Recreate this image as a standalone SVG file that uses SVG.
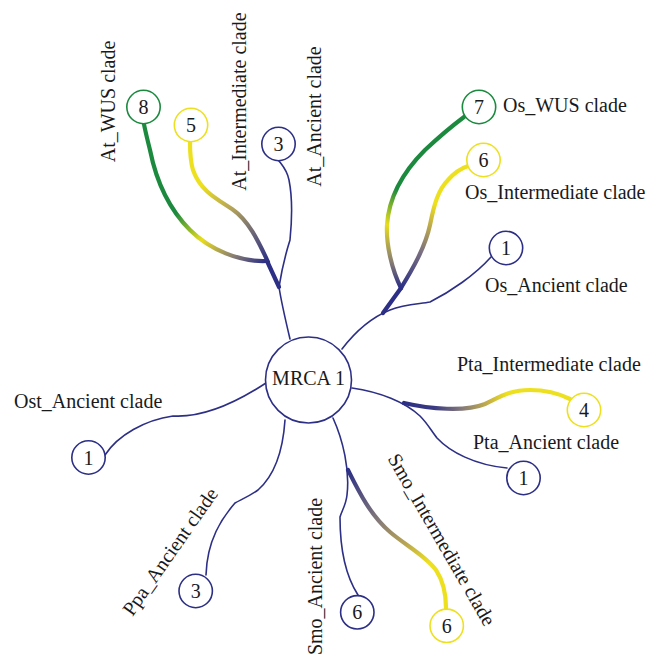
<svg xmlns="http://www.w3.org/2000/svg" width="653" height="660" viewBox="0 0 653 660" font-family="'Liberation Serif', 'DejaVu Serif', serif">
<style>
text{font-family:"Liberation Serif","DejaVu Serif",serif;font-size:20px;fill:#1a1a1a}
.num{text-anchor:middle}
.mid{text-anchor:middle}
.thin{fill:none;stroke:#2c2f85;stroke-width:1.6;stroke-linecap:round}
.thick{fill:none;stroke-width:4.2;stroke-linecap:round}
.cn{fill:#fff;stroke:#2c2f85;stroke-width:1.6}
.cy{fill:#fff;stroke:#ede01e;stroke-width:1.6}
.cg{fill:#fff;stroke:#1c8a3e;stroke-width:1.6}
</style>
<defs>
<linearGradient id="gAtWUS" gradientUnits="userSpaceOnUse" x1="266" y1="261" x2="144" y2="124">
<stop offset="0" stop-color="#2c2f85"/><stop offset="0.14" stop-color="#8a7f72"/><stop offset="0.32" stop-color="#e9dd1c"/><stop offset="0.52" stop-color="#1c8a3e"/><stop offset="1" stop-color="#1c8a3e"/>
</linearGradient>
<linearGradient id="gAtInt" gradientUnits="userSpaceOnUse" x1="268" y1="262" x2="190" y2="142">
<stop offset="0" stop-color="#2c2f85"/><stop offset="0.22" stop-color="#6a6478"/><stop offset="0.45" stop-color="#b3a35a"/><stop offset="0.7" stop-color="#ede01e"/><stop offset="1" stop-color="#ede01e"/>
</linearGradient>
<linearGradient id="gOsWUS" gradientUnits="userSpaceOnUse" x1="401" y1="288" x2="464" y2="117">
<stop offset="0" stop-color="#2c2f85"/><stop offset="0.12" stop-color="#8a7f72"/><stop offset="0.3" stop-color="#e9dd1c"/><stop offset="0.5" stop-color="#1c8a3e"/><stop offset="1" stop-color="#1c8a3e"/>
</linearGradient>
<linearGradient id="gOsInt" gradientUnits="userSpaceOnUse" x1="401" y1="288" x2="468" y2="167">
<stop offset="0" stop-color="#2c2f85"/><stop offset="0.3" stop-color="#7a7080"/><stop offset="0.5" stop-color="#c0ab4a"/><stop offset="0.65" stop-color="#ede01e"/><stop offset="1" stop-color="#ede01e"/>
</linearGradient>
<linearGradient id="gPta" gradientUnits="userSpaceOnUse" x1="404" y1="403" x2="570" y2="399">
<stop offset="0" stop-color="#2c2f85"/><stop offset="0.18" stop-color="#3a3a82"/><stop offset="0.35" stop-color="#857a78"/><stop offset="0.5" stop-color="#c2ad4a"/><stop offset="0.62" stop-color="#ede01e"/><stop offset="1" stop-color="#ede01e"/>
</linearGradient>
<linearGradient id="gSmo" gradientUnits="userSpaceOnUse" x1="348" y1="470" x2="446" y2="608">
<stop offset="0" stop-color="#2c2f85"/><stop offset="0.35" stop-color="#857a78"/><stop offset="0.55" stop-color="#b8a552"/><stop offset="0.72" stop-color="#ede01e"/><stop offset="1" stop-color="#ede01e"/>
</linearGradient>
</defs>

<g id="connectors">
<path class="thin" d="M290,339 C285,318 281,300 279,287"/>
<path class="thin" d="M279,287 Q283,262 290,240 C292,220 292,195 289,180 C287,170 282,165 279,161"/>
<path class="thick" stroke="#2c2f85" d="M279,287 L267,261"/>
<path class="thick" stroke="url(#gAtWUS)" d="M266,261 C240,262 210,250 190,230 C165,205 155,175 150,150 C147,138 145,130 144,124"/>
<path class="thick" stroke="url(#gAtInt)" d="M268,262 C258,240 248,220 232,209 C215,198 200,190 193,170 C190,160 190,150 190,142"/>
<path class="thin" d="M342,349 C355,332 370,318 390,310 C405,304 420,304 430,302 C450,292 475,275 491,257"/>
<path class="thick" stroke="#2c2f85" d="M383,313 L401,288"/>
<path class="thick" stroke="url(#gOsWUS)" d="M401,288 C392,270 386,245 387,225 C389,195 405,170 425,150 C440,136 452,126 464,117"/>
<path class="thick" stroke="url(#gOsInt)" d="M401,288 C412,270 425,248 430,225 C434,205 438,190 448,180 C455,172 462,168 468,166"/>
<path class="thin" d="M266,383 C240,400 205,418 173,416 C145,420 118,435 105,455"/>
<path class="thin" d="M352,388 C380,392 405,402 420,416 C428,424 432,432 437,438 C450,452 475,465 507,468"/>
<path class="thick" stroke="url(#gPta)" d="M404,403 C430,409 465,412 485,404 C500,397 510,390 530,390 C550,390 562,395 570,399"/>
<path class="thin" d="M285,420 C283,450 275,475 258,490 C248,497 240,500 235,503 C222,518 207,540 206,575"/>
<path class="thin" d="M333,418 C343,440 350,470 347,495 C346,505 342,510 340,517 C340,545 345,575 358,595"/>
<path class="thick" stroke="url(#gSmo)" d="M348,470 C358,490 370,515 390,532 C405,545 425,555 436,570 C444,582 446,595 446,608"/>
</g>

<g id="mrca"><circle class="cn" cx="308.5" cy="380" r="43"/><text class="num" x="308.5" y="385">MRCA 1</text></g>

<g id="at-wus"><circle class="cg" cx="143.5" cy="107" r="16.7"/><text class="num" x="143.5" y="114">8</text>
<text class="mid" transform="translate(115,101.5) rotate(-90)">At_WUS clade</text></g>
<g id="at-int"><circle class="cy" cx="191" cy="125" r="16.7"/><text class="num" x="191" y="132">5</text>
<text class="mid" transform="translate(246,101.5) rotate(-90)">At_Intermediate clade</text></g>
<g id="at-anc"><circle class="cn" cx="278.5" cy="144" r="16.7"/><text class="num" x="278.5" y="151">3</text>
<text class="mid" transform="translate(321,116.5) rotate(-90)">At_Ancient clade</text></g>

<g id="os-wus"><circle class="cg" cx="479" cy="107" r="16.7"/><text class="num" x="479" y="114">7</text>
<text x="503" y="112">Os_WUS clade</text></g>
<g id="os-int"><circle class="cy" cx="483.5" cy="160" r="16.7"/><text class="num" x="483.5" y="167">6</text>
<text x="465" y="199">Os_Intermediate clade</text></g>
<g id="os-anc"><circle class="cn" cx="506" cy="248" r="16.7"/><text class="num" x="506" y="255">1</text>
<text x="485" y="292">Os_Ancient clade</text></g>

<g id="ost-anc"><circle class="cn" cx="88.5" cy="457.5" r="16.7"/><text class="num" x="88.5" y="464.5">1</text>
<text x="14" y="408">Ost_Ancient clade</text></g>

<g id="pta-int"><circle class="cy" cx="584" cy="410" r="16.7"/><text class="num" x="584" y="417">4</text>
<text x="457" y="371">Pta_Intermediate clade</text></g>
<g id="pta-anc"><circle class="cn" cx="523.5" cy="478" r="16.7"/><text class="num" x="523.5" y="485">1</text>
<text x="473" y="449">Pta_Ancient clade</text></g>

<g id="ppa-anc"><circle class="cn" cx="195.7" cy="591" r="16.7"/><text class="num" x="195.7" y="598">3</text>
<text class="mid" transform="translate(175.6,555.4) rotate(-55)">Ppa_Ancient clade</text></g>

<g id="smo-anc"><circle class="cn" cx="357.3" cy="612.3" r="16.7"/><text class="num" x="357.3" y="619.3">6</text>
<text class="mid" transform="translate(322,576.5) rotate(-90)">Smo_Ancient clade</text></g>
<g id="smo-int"><circle class="cy" cx="446.7" cy="625.8" r="16.7"/><text class="num" x="446.7" y="632.8">6</text>
<text class="mid" transform="translate(436,543) rotate(60)">Smo_Intermediate clade</text></g>
</svg>
